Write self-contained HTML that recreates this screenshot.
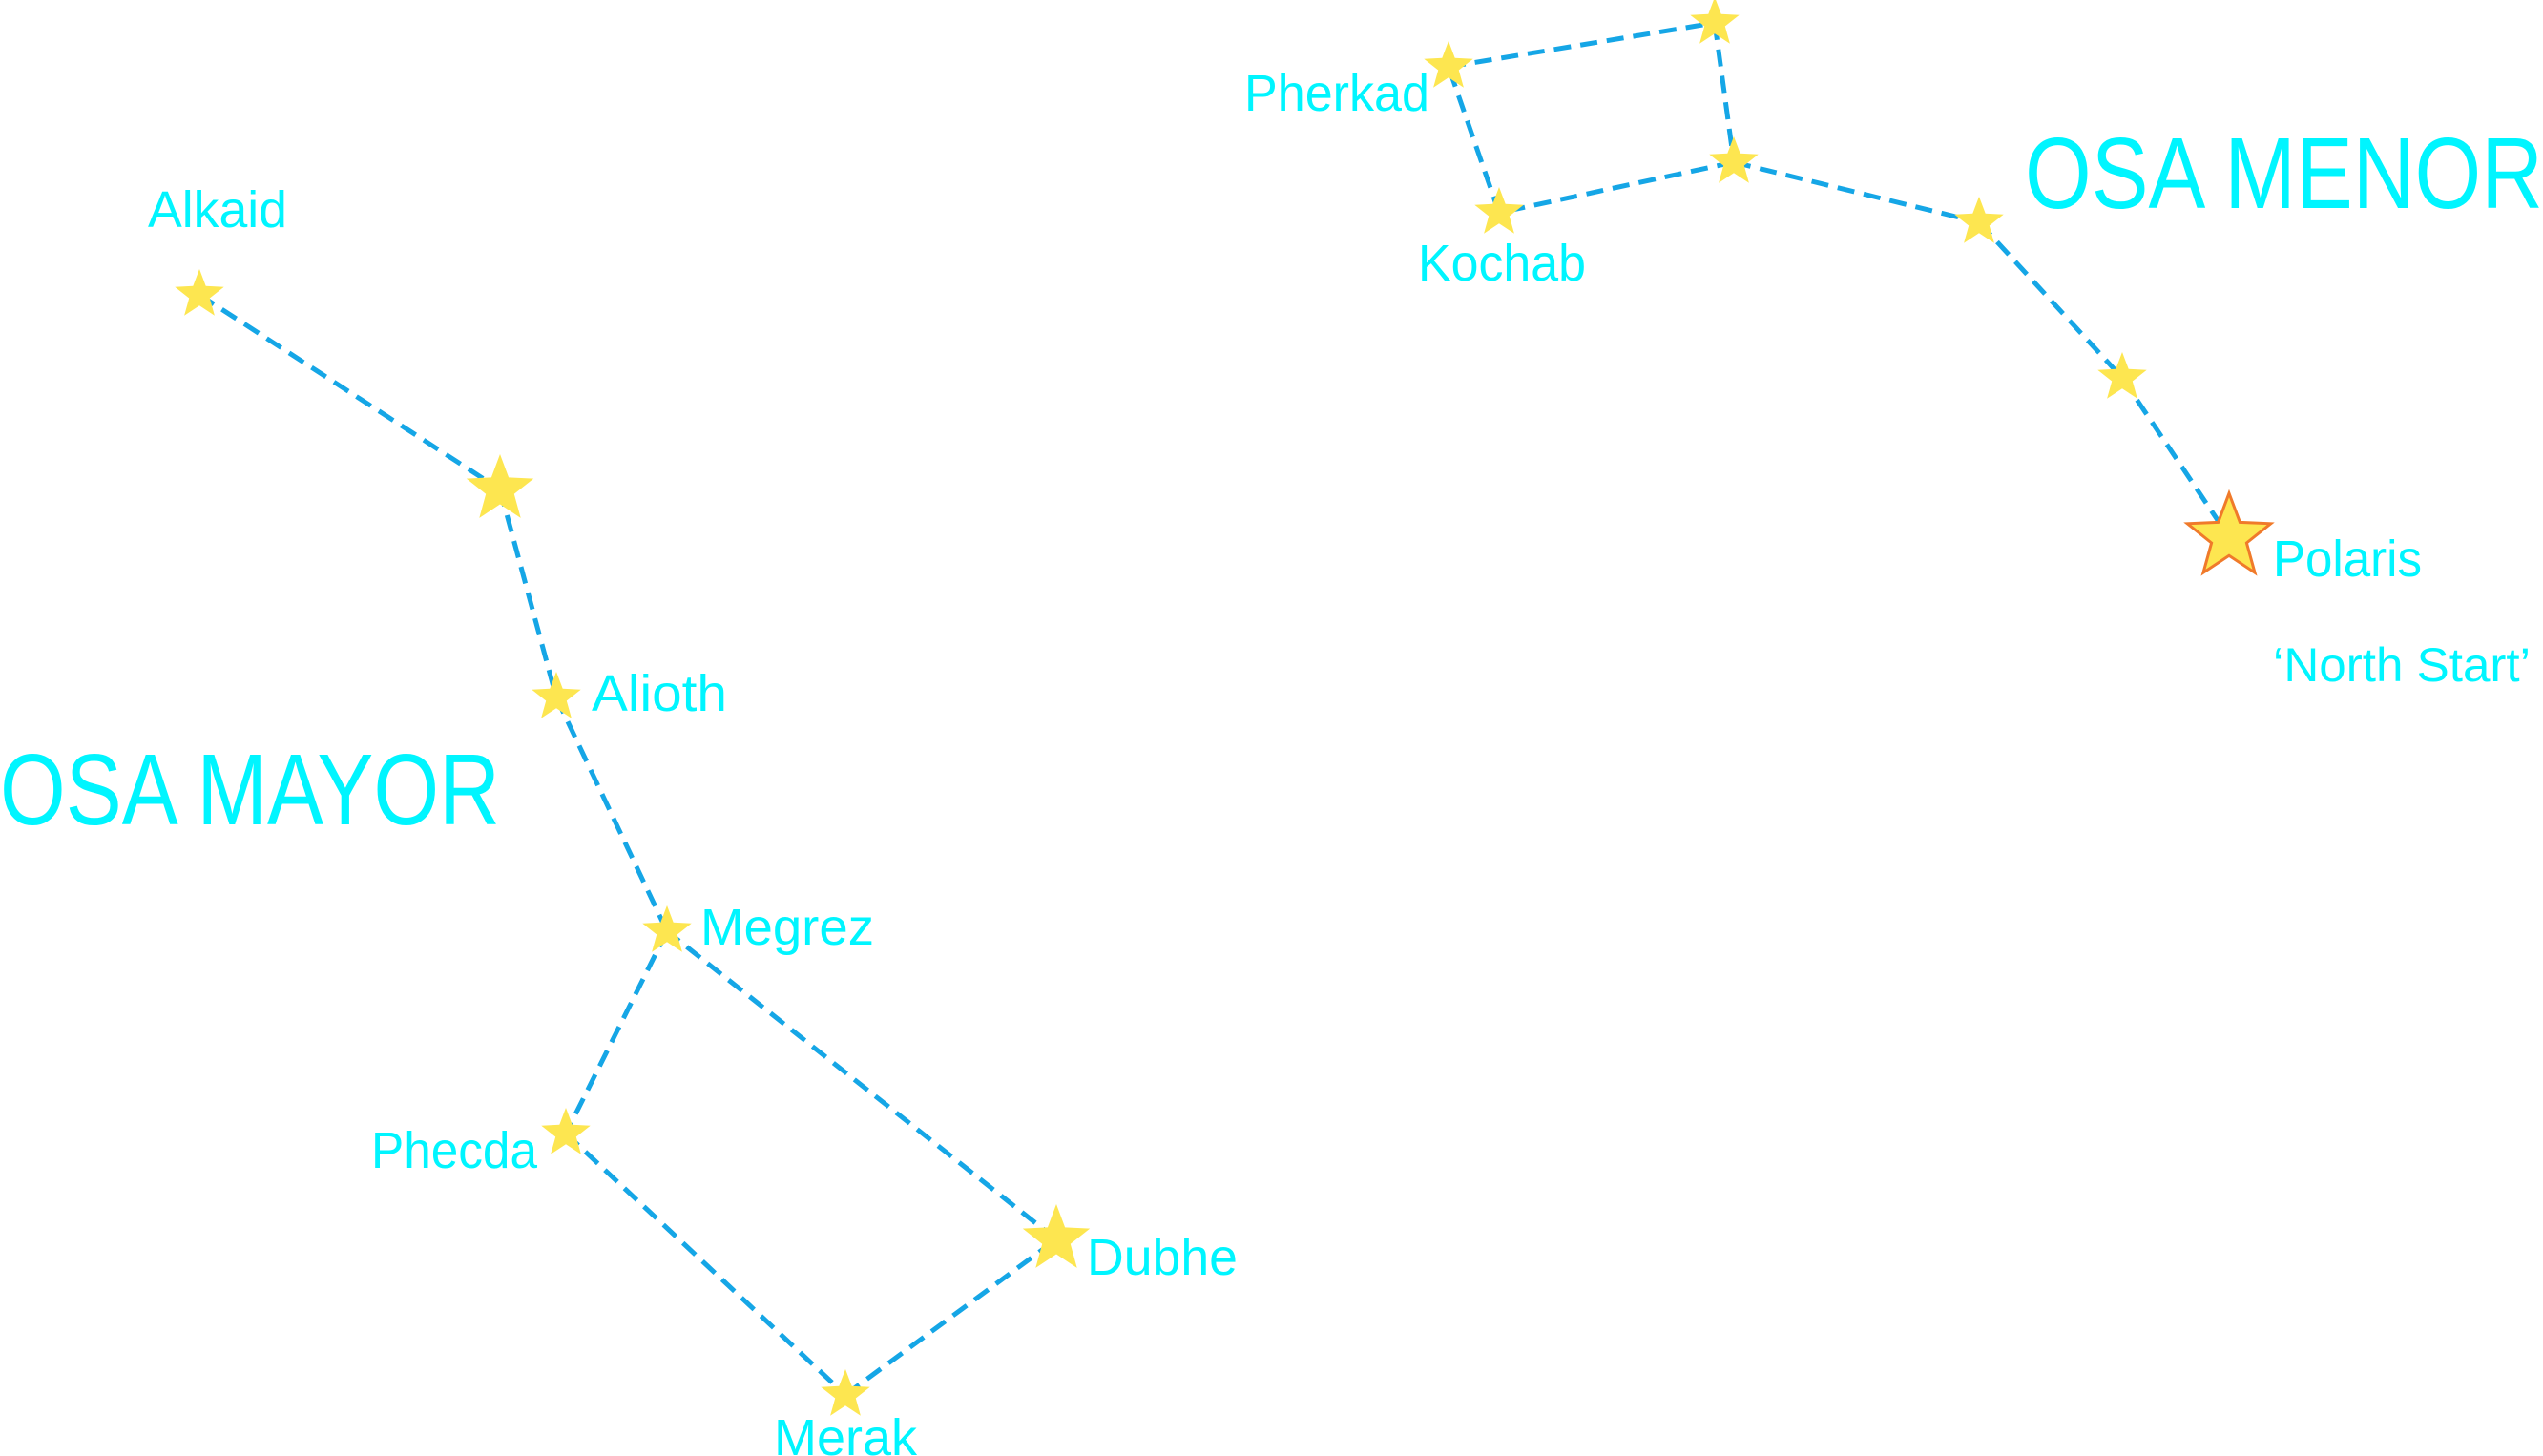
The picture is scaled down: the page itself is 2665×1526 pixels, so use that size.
<!DOCTYPE html>
<html><head><meta charset="utf-8"><style>
html,body{margin:0;padding:0;background:#fff;}
svg{display:block;}
text{font-family:"Liberation Sans",sans-serif;fill:#00f5ff;}
</style></head><body>
<svg id="chart" width="2665" height="1526" viewBox="0 0 2665 1526" xmlns="http://www.w3.org/2000/svg">
<g id="lines"></g>
<g id="stars"></g>
<g id="labels">
<text x="0" y="864" font-size="106" textLength="524" lengthAdjust="spacingAndGlyphs">OSA MAYOR</text>
<text x="2122" y="218" font-size="106" textLength="543" lengthAdjust="spacingAndGlyphs">OSA MENOR</text>
<text x="155" y="238" font-size="54" textLength="146" lengthAdjust="spacingAndGlyphs">Alkaid</text>
<text x="620" y="745" font-size="54" textLength="142" lengthAdjust="spacingAndGlyphs">Alioth</text>
<text x="734" y="990" font-size="54" textLength="182" lengthAdjust="spacingAndGlyphs">Megrez</text>
<text x="389" y="1224" font-size="54" textLength="174" lengthAdjust="spacingAndGlyphs">Phecda</text>
<text x="1139" y="1336" font-size="54" textLength="158" lengthAdjust="spacingAndGlyphs">Dubhe</text>
<text x="811" y="1525" font-size="54" textLength="150" lengthAdjust="spacingAndGlyphs">Merak</text>
<text x="1304" y="116" font-size="54" textLength="194" lengthAdjust="spacingAndGlyphs">Pherkad</text>
<text x="1486" y="294" font-size="54" textLength="176" lengthAdjust="spacingAndGlyphs">Kochab</text>
<text x="2382" y="604" font-size="54" textLength="156" lengthAdjust="spacingAndGlyphs">Polaris</text>
<text x="2382" y="714" font-size="50" textLength="270" lengthAdjust="spacingAndGlyphs">‘North Start’</text>
</g>
</svg>
<script>
const starNames = ["alkaid","mizar","alioth","megrez","phecda","merak","dubhe","pherkad","umi-top","umi-mid","kochab","umi-a","umi-b","polaris"];
const starX = [209,524,583,699,593,886,1107,1518,1797,1817,1571,2074,2224,2336];
const starY = [309,513,731,976,1188,1462,1299,70,24,170,223,233,396,563];
const starMag = [1,2,1,1,1,1,2,1,1,1,1,1,1,3];
const edgeFrom = [0,1,2,3,4,5,6,7,8,9,10,9,11,12];
const edgeTo   = [1,2,3,4,5,6,3,8,9,10,7,11,12,13];

const NS="http://www.w3.org/2000/svg";
const gl=document.getElementById('lines'), gs=document.getElementById('stars');
for(let i=0;i<edgeFrom.length;i++){
  const l=document.createElementNS(NS,'line');
  l.setAttribute('x1',starX[edgeFrom[i]]);l.setAttribute('y1',starY[edgeFrom[i]]);
  l.setAttribute('x2',starX[edgeTo[i]]);l.setAttribute('y2',starY[edgeTo[i]]);
  l.setAttribute('stroke','#15a6e6');l.setAttribute('stroke-width','5');
  l.setAttribute('stroke-dasharray','18 10');
  
  
  gl.appendChild(l);
}
const radius=[0,27,37,46];
for(let i=0;i<starNames.length;i++){
  const R=radius[starMag[i]], r=R*0.42; let pts=[];
  for(let k=0;k<10;k++){
    const a=-Math.PI/2+k*Math.PI/5, rr=k%2?r:R;
    pts.push((starX[i]+rr*Math.cos(a)).toFixed(1)+','+(starY[i]+rr*Math.sin(a)).toFixed(1));
  }
  const p=document.createElementNS(NS,'polygon');
  p.setAttribute('points',pts.join(' '));
  p.setAttribute('fill','#fde650');
  if(starMag[i]===3){p.setAttribute('stroke','#f07a2a');p.setAttribute('stroke-width','3');}
  
  
  gs.appendChild(p);
}
</script>
</body></html>
